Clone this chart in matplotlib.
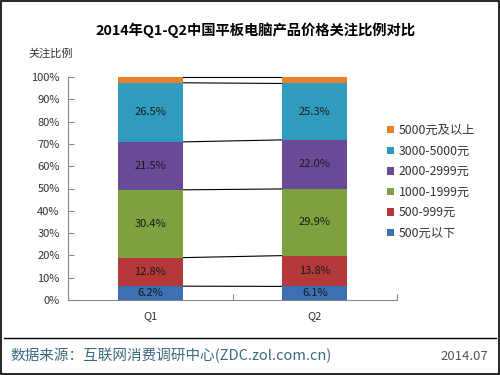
import matplotlib.pyplot as plt
import numpy as np
from matplotlib.patches import Rectangle

plt.rcParams['font.family'] = ['Noto Sans CJK SC', 'DejaVu Sans']

# 数据
categories = ["Q1", "Q2"]
series = ["500元以下", "500-999元", "1000-1999元", "2000-2999元", "3000-5000元", "5000元及以上"]
q1_values = [6.2, 12.8, 30.4, 21.5, 26.5, 2.6]
q2_values = [6.1, 13.8, 29.9, 22.0, 25.3, 2.9]
label_q1 = ["6.2%", "12.8%", "30.4%", "21.5%", "26.5%", ""]
label_q2 = ["6.1%", "13.8%", "29.9%", "22.0%", "25.3%", ""]
yticks = [0, 10, 20, 30, 40, 50, 60, 70, 80, 90, 100]

COLORS = ["#3c6fb4", "#b5393a", "#7fa03e", "#6a4a96", "#2f9cbf", "#e8812a"]
TEXT = "#333333"

fig = plt.figure(figsize=(5, 3.75), dpi=100)
fig.patches.append(Rectangle((0.002, 0.002), 0.996, 0.996, transform=fig.transFigure,
                             fill=False, edgecolor="black", linewidth=1.2))

ax = fig.add_axes([68 / 500, 1 - 300 / 375, (397 - 68) / 500, (300 - 77) / 375])

values = np.array([q1_values, q2_values])
labels = [label_q1, label_q2]
x = np.arange(len(categories))
width = 0.395
bottom = np.zeros(len(categories))
for i, name in enumerate(series):
    ax.bar(x, values[:, i], width, bottom=bottom, color=COLORS[i], label=name, zorder=2)
    for j in range(len(categories)):
        if labels[j][i]:
            ax.text(x[j], bottom[j] + values[j, i] / 2, labels[j][i], ha="center", va="center",
                    fontsize=8, color="#1a1a1a", zorder=3)
    bottom = bottom + values[:, i]
    # 系列连接线
    ax.plot([x[0] + width / 2, x[1] - width / 2], [bottom[0], bottom[1]],
            color="black", linewidth=0.8, zorder=1, clip_on=False)

ax.set_xlim(-0.5, 1.5)
ax.set_ylim(0, 100)
ax.set_yticks(yticks)
ax.set_yticklabels([f"{v}%" for v in yticks], fontsize=8, color=TEXT)
ax.set_xticks([-0.5, 0.5, 1.5], minor=False)
ax.set_xticklabels([])
ax.set_xticks(x, minor=True)
ax.set_xticklabels(categories, minor=True, fontsize=8, color=TEXT)
ax.tick_params(axis="x", which="minor", length=0, pad=8)
ax.tick_params(axis="x", which="major", length=4, direction="in", color="#888888")
ax.tick_params(axis="y", length=4, direction="in", color="#888888", pad=6)
for s in ["top", "right"]:
    ax.spines[s].set_visible(False)
for s in ["left", "bottom"]:
    ax.spines[s].set_color("#888888")

handles, names = ax.get_legend_handles_labels()
ax.legend(handles[::-1], names[::-1], loc="upper left", bbox_to_anchor=(376 / 500, 1 - 113 / 375),
          bbox_transform=fig.transFigure, frameon=False, fontsize=8.8, handlelength=0.55,
          handleheight=0.55, handletextpad=0.4, labelspacing=0.62, labelcolor=TEXT)

fig.text(0.51, 1 - 30 / 375, "2014年Q1-Q2中国平板电脑产品价格关注比例对比", ha="center", va="center",
         fontsize=10.3, fontweight="bold", color="black")
fig.text(28 / 500, 1 - 54 / 375, "关注比例", ha="left", va="center", fontsize=8, color=TEXT)

fig.add_artist(plt.Line2D([4 / 500, 496 / 500], [1 - 338 / 375] * 2, color="black", linewidth=1))
fig.text(10 / 500, 1 - 356 / 375, "数据来源：互联网消费调研中心(ZDC.zol.com.cn)", ha="left", va="center",
         fontsize=10.5, color="#3b6a80")
fig.text(488 / 500, 1 - 356 / 375, "2014.07", ha="right", va="center", fontsize=9.5, color="#555555")

fig.savefig("out.png", dpi=100)
